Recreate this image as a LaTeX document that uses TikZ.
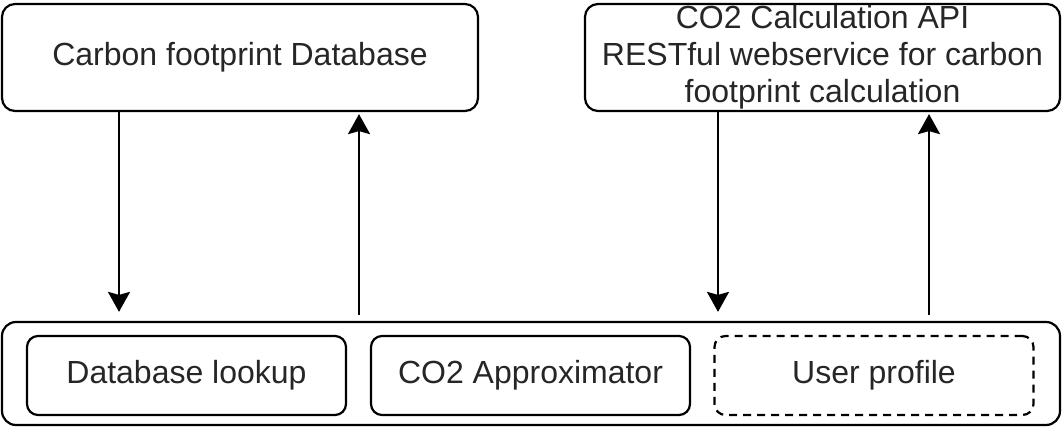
\documentclass[tikz,border=0pt]{standalone}
\usepackage{fontspec}
\setmainfont{Liberation Sans}
\usetikzlibrary{arrows.meta}
\begin{document}
\begin{tikzpicture}[x=1pt,y=-1pt,
  box/.style={draw, line width=2.2pt, rounded corners=13pt, inner sep=0pt,
    text=black!85, font=\fontsize{32pt}{37pt}\selectfont, align=center},
  inbox/.style={box, rounded corners=11pt, minimum width=319pt, minimum height=79pt},
  link/.style={line width=2.2pt, -{Stealth[length=20pt,width=22pt,inset=3pt,fill=black]}}]
\useasboundingbox (0,0) rectangle (1063,428);

% service boxes on top
\node[box, minimum width=476pt, minimum height=107pt] (db) at (240,57.5)
  {Carbon footprint Database};
\node[box, minimum width=475pt, minimum height=107pt] (api) at (822.5,57.5)
  {CO2 Calculation API\\RESTful webservice for carbon\\footprint calculation};

% client container with its components
\node[box, rounded corners=14pt, minimum width=1058pt, minimum height=103pt] (client) at (531,373.5) {};
\node[inbox] (lookup) at (186.5,375.5) {Database lookup};
\node[inbox] (approx) at (530.5,375.5) {CO2 Approximator};
\node[inbox, dashed, dash pattern=on 8pt off 6pt] (profile) at (874,375.5) {User profile};

% requests and responses
\draw[link] (db.south -| 119,0) -- ([yshift=9pt]client.north -| 119,0);
\draw[link] ([yshift=6pt]client.north -| 359,0) -- ([yshift=-2pt]db.south -| 359,0);
\draw[link] (api.south -| 718,0) -- ([yshift=9pt]client.north -| 718,0);
\draw[link] ([yshift=6pt]client.north -| 929,0) -- ([yshift=-2pt]api.south -| 929,0);
\end{tikzpicture}
\end{document}
